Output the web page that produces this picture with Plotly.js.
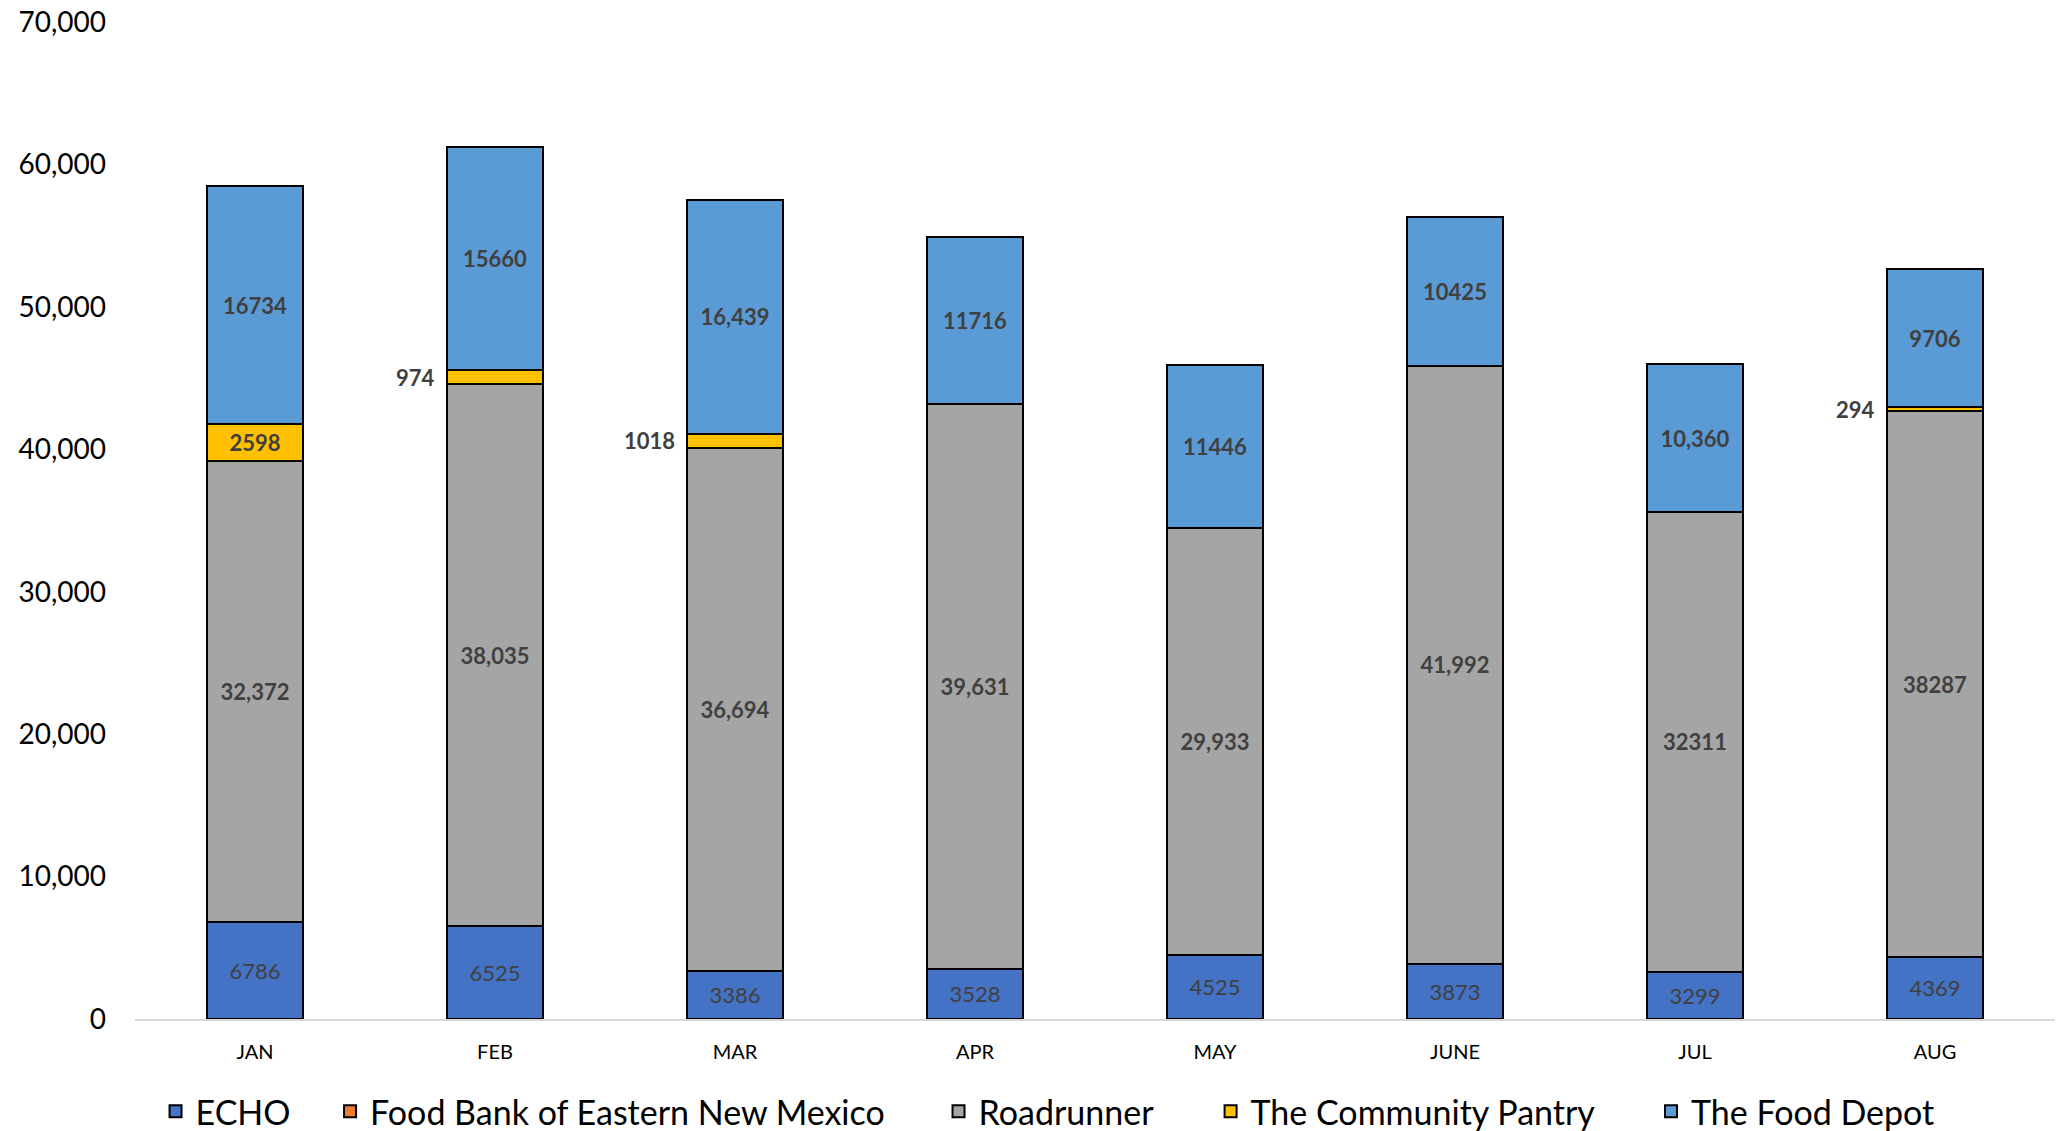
<!DOCTYPE html>
<html>
<head>
<meta charset="utf-8">
<script src="https://cdn.plot.ly/plotly-3.0.1.min.js"></script>
<style>
  html, body { margin: 0; padding: 0; background: #fff; }
  #chart { width: 2057px; height: 1131px; }
</style>
</head>
<body>
<div id="chart"></div>
<script>
const months = ["JAN", "FEB", "MAR", "APR", "MAY", "JUNE", "JUL", "AUG"];
const echo = [6786, 6525, 3386, 3528, 4525, 3873, 3299, 4369];
const foodBankENM = [null, null, null, null, null, null, null, null];
const roadrunner = [32372, 38035, 36694, 39631, 29933, 41992, 32311, 38287];
const communityPantry = [2598, 974, 1018, null, null, null, null, 294];
const foodDepot = [16734, 15660, 16439, 11716, 11446, 10425, 10360, 9706];

const echoLabels = ["6786", "6525", "3386", "3528", "4525", "3873", "3299", "4369"];
const roadrunnerLabels = ["32,372", "38,035", "36,694", "39,631", "29,933", "41,992", "32311", "38287"];
const pantryLabels = ["2598", "974", "1018", "", "", "", "", "294"];
const foodDepotLabels = ["16734", "15660", "16,439", "11716", "11446", "10425", "10,360", "9706"];
const yTicks = [0, 10000, 20000, 30000, 40000, 50000, 60000, 70000];

const FONT = "Lato, 'Open Sans', sans-serif";
const LABEL_COLOR = "#404040";
const outline = { color: "#000000", width: 2 };

function barTrace(name, values, color, labels, bold, legendId) {
  return {
    type: "bar",
    name: name,
    legend: legendId,
    x: months,
    y: values,
    text: labels,
    textposition: labels ? "inside" : "none",
    insidetextanchor: "middle",
    textangle: 0,
    constraintext: "none",
    texttemplate: "%{text}",
    hoverinfo: "name+y",
    textfont: { family: FONT, size: 22, color: LABEL_COLOR, weight: bold ? "bold" : "normal" },
    insidetextfont: { family: FONT, size: 22, color: LABEL_COLOR, weight: bold ? "bold" : "normal" },
    marker: { color: color, line: outline }
  };
}

// small pantry values are labelled beside the bar; larger ones inside
const PANTRY_INSIDE_MIN = 2000;
const pantryInside = pantryLabels.map((t, i) => (communityPantry[i] != null && communityPantry[i] >= PANTRY_INSIDE_MIN) ? t : "");

const traces = [
  barTrace("ECHO", echo, "#4472C4", echoLabels, false, "legend"),
  barTrace("Food Bank of Eastern New Mexico", foodBankENM, "#ED7D31", null, true, "legend2"),
  barTrace("Roadrunner", roadrunner, "#A5A5A5", roadrunnerLabels, true, "legend3"),
  barTrace("The Community Pantry", communityPantry, "#FFC000", pantryInside, true, "legend4"),
  barTrace("The Food Depot", foodDepot, "#5B9BD5", foodDepotLabels, true, "legend5")
];

const annotations = [];
months.forEach((m, i) => {
  const v = communityPantry[i];
  if (v != null && v < PANTRY_INSIDE_MIN) {
    const base = echo[i] + (foodBankENM[i] || 0) + roadrunner[i];
    annotations.push({
      x: m, y: base + v / 2, xref: "x", yref: "y",
      text: pantryLabels[i], showarrow: false,
      xanchor: "right", yanchor: "middle", xshift: -58,
      font: { family: FONT, size: 22, color: LABEL_COLOR, weight: "bold" }
    });
  }
});

function legendAt(x) {
  return {
    orientation: "h",
    x: x, xanchor: "left",
    y: -0.093, yanchor: "middle",
    font: { family: FONT, size: 34, color: "#000000" },
    itemwidth: 30,
    bgcolor: "rgba(0,0,0,0)"
  };
}

const layout = {
  width: 2057,
  height: 1131,
  margin: { l: 135, r: 2, t: 22, b: 112, pad: 0, autoexpand: false },
  paper_bgcolor: "#ffffff",
  plot_bgcolor: "#ffffff",
  barmode: "stack",
  bargap: 0.6,
  font: { family: FONT, color: "#000000" },
  showlegend: true,
  legend: legendAt(0.0107),
  legend2: legendAt(0.1016),
  legend3: legendAt(0.4185),
  legend4: legendAt(0.5602),
  legend5: legendAt(0.7896),
  xaxis: {
    type: "category",
    categoryorder: "array",
    categoryarray: months,
    showgrid: false,
    zeroline: false,
    showline: true,
    linecolor: "#D9D9D9",
    linewidth: 2,
    ticks: "",
    ticklabelstandoff: 14,
    tickfont: { family: FONT, size: 20, color: "#000000" }
  },
  yaxis: {
    range: [0, 70000],
    tickvals: yTicks,
    tickformat: ",d",
    showgrid: false,
    zeroline: false,
    showline: false,
    ticks: "",
    ticklabelstandoff: 28,
    tickfont: { family: FONT, size: 28, color: "#000000" }
  },
  annotations: annotations
};

Plotly.newPlot("chart", traces, layout, { displayModeBar: false, staticPlot: true });
</script>
</body>
</html>
